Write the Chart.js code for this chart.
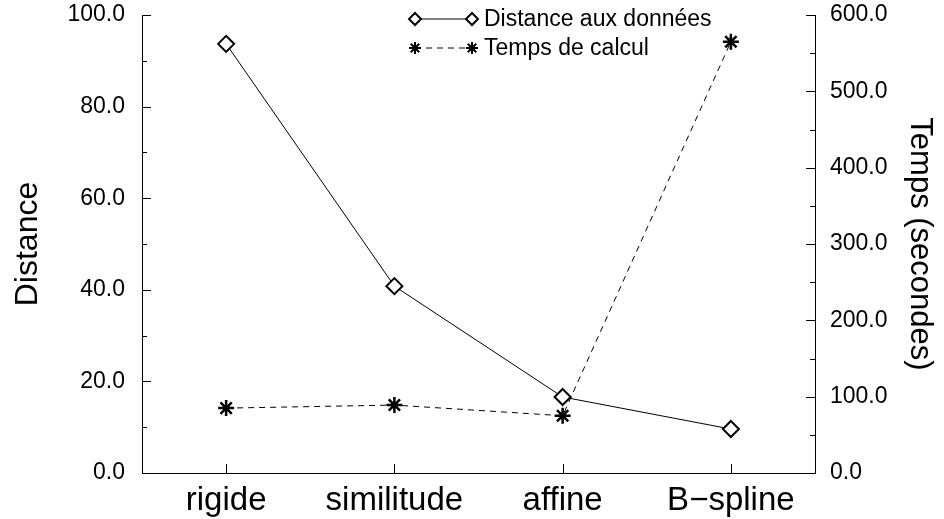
<!DOCTYPE html>
<html>
<head>
<meta charset="utf-8">
<script src="https://cdn.jsdelivr.net/npm/chart.js@4/dist/chart.umd.min.js"></script>
<style>
  html, body { margin: 0; padding: 0; background: #fff; }
  #wrap { width: 944px; height: 519px; }
</style>
</head>
<body>
<div id="wrap"><canvas id="chart" width="944" height="519"></canvas></div>
<script>
const categories = ["rigide", "similitude", "affine", "B\u2212spline"];
const distance = [93.7, 40.8, 16.6, 9.6];
const temps = [85, 89, 75, 565];
const legendLabels = ["Distance aux donn\u00e9es", "Temps de calcul"];

const fontFamily = "'Liberation Sans', Arial, Helvetica, sans-serif";
Chart.defaults.color = "#000";
Chart.defaults.font.family = fontFamily;

// little helpers for the markers (used by the legend drawn by hand)
function diamond(ctx, x, y, r) {
    ctx.beginPath();
    ctx.moveTo(x, y - r);
    ctx.lineTo(x + r, y);
    ctx.lineTo(x, y + r);
    ctx.lineTo(x - r, y);
    ctx.closePath();
    ctx.fillStyle = "#fff";
    ctx.fill();
    ctx.stroke();
}
function star(ctx, x, y, r) {
    ctx.beginPath();
    for (let i = 0; i < 4; i++) {
        const a = i * Math.PI / 4;
        ctx.moveTo(x - Math.sin(a) * r, y - Math.cos(a) * r);
        ctx.lineTo(x + Math.sin(a) * r, y + Math.cos(a) * r);
    }
    ctx.stroke();
}

// fixed axis box sizes so the plot area lands where it is in the picture
function fixWidth(w) {
    return (s) => {
        s.width = w;
        s.paddingTop = 0;
        s.paddingBottom = 0;
    };
}

// inward ticks + the two-marker legend
const decorations = {
    id: "decorations",
    afterDraw(chart) {
        const ctx = chart.ctx;
        const area = chart.chartArea;
        const yl = chart.scales.y;
        const yr = chart.scales.y2;
        const xs = chart.scales.x;
        ctx.save();
        ctx.strokeStyle = "#000";
        ctx.lineWidth = 1;
        ctx.beginPath();
        for (let v = 0; v <= 100; v += 10) {
            const p = Math.round(yl.getPixelForValue(v)) + 0.5;
            const len = v % 20 === 0 ? 9 : 5;
            ctx.moveTo(area.left, p);
            ctx.lineTo(area.left + len, p);
        }
        for (let v = 0; v <= 600; v += 50) {
            const p = Math.round(yr.getPixelForValue(v)) + 0.5;
            const len = v % 100 === 0 ? 9 : 5;
            ctx.moveTo(area.right, p);
            ctx.lineTo(area.right - len, p);
        }
        categories.forEach((c, i) => {
            const p = Math.round(xs.getPixelForValue(i)) + 0.5;
            ctx.moveTo(p, area.bottom);
            ctx.lineTo(p, area.bottom - 9);
        });
        ctx.stroke();

        // legend
        const x0 = 415, x1 = 472, tx = 484;
        const rows = [19, 48];
        ctx.lineWidth = 1;
        ctx.beginPath();
        ctx.moveTo(x0, rows[0]);
        ctx.lineTo(x1, rows[0]);
        ctx.stroke();
        ctx.setLineDash([6, 5]);
        ctx.beginPath();
        ctx.moveTo(x0, rows[1]);
        ctx.lineTo(x1, rows[1]);
        ctx.stroke();
        ctx.setLineDash([]);
        ctx.lineWidth = 2;
        diamond(ctx, x0, rows[0], 6);
        diamond(ctx, x1, rows[0], 6);
        star(ctx, x0, rows[1], 6);
        star(ctx, x1, rows[1], 6);
        ctx.fillStyle = "#000";
        ctx.font = "23px " + fontFamily;
        ctx.textBaseline = "middle";
        ctx.textAlign = "left";
        ctx.fillText(legendLabels[0], tx, rows[0] + 1);
        ctx.fillText(legendLabels[1], tx, rows[1] + 1);
        ctx.restore();
    }
};

var ctx = document.getElementById("chart").getContext("2d");
var chart = new Chart(ctx, {
    type: "line",
    data: {
        labels: categories,
        datasets: [
            {
                label: legendLabels[0],
                data: distance,
                yAxisID: "y",
                borderColor: "#000",
                borderWidth: 1,
                backgroundColor: "#fff",
                pointStyle: "rectRot",
                pointRadius: 8,
                pointBorderWidth: 2,
                pointBackgroundColor: "#fff",
                pointBorderColor: "#000",
                tension: 0
            },
            {
                label: legendLabels[1],
                data: temps,
                yAxisID: "y2",
                borderColor: "#000",
                borderWidth: 1,
                borderDash: [6, 5],
                pointStyle: "star",
                pointRadius: 8,
                pointBorderWidth: 2.5,
                pointBorderColor: "#000",
                tension: 0
            }
        ]
    },
    options: {
        responsive: false,
        animation: false,
        layout: { padding: { top: 15, right: 0, bottom: 0, left: 0 } },
        plugins: {
            legend: { display: false },
            tooltip: { enabled: false }
        },
        scales: {
            x: {
                offset: true,
                grid: { display: false, drawTicks: false },
                border: { display: true, color: "#000", width: 1 },
                ticks: { font: { size: 33 }, padding: 8, maxRotation: 0 },
                afterFit: (s) => { s.height = 46; s.paddingLeft = 0; s.paddingRight = 0; }
            },
            y: {
                position: "left",
                min: 0,
                max: 100,
                grid: { display: false, drawTicks: false },
                border: { display: true, color: "#000", width: 1 },
                ticks: {
                    stepSize: 20,
                    font: { size: 23 },
                    padding: 17,
                    callback: (v) => Number(v).toFixed(1)
                },
                title: { display: true, text: "Distance", font: { size: 32 }, padding: { top: 9 } },
                afterFit: fixWidth(142)
            },
            y2: {
                position: "right",
                min: 0,
                max: 600,
                grid: { display: false, drawTicks: false },
                border: { display: true, color: "#000", width: 1 },
                ticks: {
                    stepSize: 100,
                    font: { size: 23 },
                    padding: 15,
                    callback: (v) => Number(v).toFixed(1)
                },
                title: { display: true, text: "Temps (secondes)", font: { size: 31 }, padding: { top: 6 } },
                afterFit: fixWidth(129)
            }
        }
    },
    plugins: [decorations]
});
</script>
</body>
</html>
